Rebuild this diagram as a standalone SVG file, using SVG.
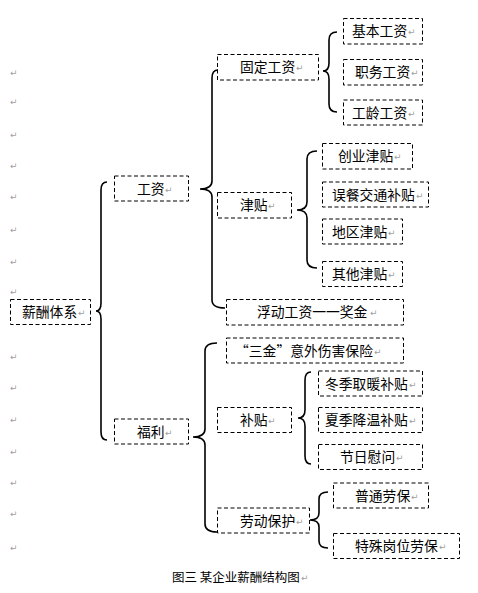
<svg xmlns="http://www.w3.org/2000/svg" width="478" height="593" viewBox="0 0 478 593">
<style>
.box rect{fill:none;stroke:#000;stroke-width:1;stroke-dasharray:4 2.5}
.t{font-family:"Noto Sans CJK SC","Liberation Sans",sans-serif;font-size:13.8px;fill:#000}
.r{font-family:"DejaVu Sans",sans-serif;font-size:9px;fill:#a0a0a0}
.br{fill:none;stroke:#000;stroke-width:1.6}
.cap{font-family:"Noto Sans CJK SC","Liberation Sans",sans-serif;font-size:12.5px;fill:#000}
</style>
<rect width="478" height="593" fill="#fff"/>
<g id="marks">
<text class="r" x="10" y="76">↵</text>
<text class="r" x="10" y="105">↵</text>
<text class="r" x="10" y="138">↵</text>
<text class="r" x="10" y="169">↵</text>
<text class="r" x="10" y="200">↵</text>
<text class="r" x="10" y="233">↵</text>
<text class="r" x="10" y="265">↵</text>
<text class="r" x="10" y="295">↵</text>
<text class="r" x="10" y="360">↵</text>
<text class="r" x="10" y="391">↵</text>
<text class="r" x="10" y="423">↵</text>
<text class="r" x="10" y="455">↵</text>
<text class="r" x="10" y="486">↵</text>
<text class="r" x="10" y="517">↵</text>
<text class="r" x="10" y="551">↵</text>
</g>
<g id="connectors">
<path class="br" d="M107 182 Q101 182 101 190 L101 303 Q101 311 96 311 Q101 311 101 319 L101 432 Q101 440 107 440"/>
<path class="br" d="M218 70 Q212 70 212 78 L212 181 Q212 189 200 189 Q212 189 212 197 L212 300 Q212 308 225 308"/>
<path class="br" d="M337 32 Q329 32 329 40 L329 63 Q329 71 323 71 Q329 71 329 79 L329 104 Q329 112 337 112"/>
<path class="br" d="M317 151 Q307 151 307 159 L307 202 Q307 210 297 210 Q307 210 307 218 L307 260 Q307 268 317 268"/>
<path class="br" d="M217 343 Q205 343 205 351 L205 429 Q205 437 193 437 Q205 437 205 445 L205 524 Q205 532 217 532"/>
<path class="br" d="M311 372 Q305 372 305 380 L305 410 Q305 418 298 418 Q305 418 305 426 L305 456 Q305 464 311 464"/>
<path class="br" d="M328 492 Q319 492 319 499 L319 513 Q319 520 310 520 Q319 520 319 527 L319 541 Q319 548 328 548"/>
</g>
<g id="n-root" class="box"><rect x="10.5" y="299.5" width="80" height="25"/><text class="t" x="22" y="317">薪酬体系</text><text class="r" x="78" y="316">↵</text></g>
<g id="n-gongzi" class="box"><rect x="114.5" y="176" width="74" height="25"/><text class="t" x="137" y="193.5">工资</text><text class="r" x="165" y="192.5">↵</text></g>
<g id="n-fuli" class="box"><rect x="114.5" y="419" width="74" height="25"/><text class="t" x="137" y="436.5">福利</text><text class="r" x="165" y="435.5">↵</text></g>
<g id="n-guding" class="box"><rect x="217.5" y="54.5" width="101" height="25.5"/><text class="t" x="240" y="72">固定工资</text><text class="r" x="296" y="71">↵</text></g>
<g id="n-jiben" class="box"><rect x="343.5" y="18.5" width="79" height="25.5"/><text class="t" x="352" y="36">基本工资</text><text class="r" x="408" y="35">↵</text></g>
<g id="n-zhiwu" class="box"><rect x="343.5" y="59.5" width="79" height="25.5"/><text class="t" x="355" y="77">职务工资</text><text class="r" x="411" y="76">↵</text></g>
<g id="n-gongling" class="box"><rect x="343.5" y="100" width="79" height="25"/><text class="t" x="352" y="117.5">工龄工资</text><text class="r" x="408" y="116.5">↵</text></g>
<g id="n-jintie" class="box"><rect x="217.5" y="192.5" width="74" height="25.5"/><text class="t" x="240" y="210">津贴</text><text class="r" x="268" y="209">↵</text></g>
<g id="n-chuangye" class="box"><rect x="322.5" y="143.5" width="90" height="25.5"/><text class="t" x="338" y="161">创业津贴</text><text class="r" x="394" y="160">↵</text></g>
<g id="n-wucan" class="box"><rect x="322.5" y="182" width="106" height="25"/><text class="t" x="332" y="199.5">误餐交通补贴</text><text class="r" x="416" y="198.5">↵</text></g>
<g id="n-diqu" class="box"><rect x="322.5" y="219" width="80" height="25"/><text class="t" x="332" y="236.5">地区津贴</text><text class="r" x="388" y="235.5">↵</text></g>
<g id="n-qita" class="box"><rect x="322.5" y="261.5" width="80" height="25"/><text class="t" x="332" y="279">其他津贴</text><text class="r" x="388" y="278">↵</text></g>
<g id="n-fudong" class="box"><rect x="226.5" y="299.5" width="177" height="25.5"/><text class="t" x="257" y="317">浮动工资一一奖金</text><text class="r" x="370" y="316">↵</text></g>
<g id="n-sanjin" class="box"><rect x="226.5" y="338" width="177" height="25"/><text class="t" x="235" y="355.5">“三金”意外伤害保险</text><text class="r" x="374" y="354.5">↵</text></g>
<g id="n-butie" class="box"><rect x="217.5" y="407.5" width="74" height="25"/><text class="t" x="240" y="425">补贴</text><text class="r" x="268" y="424">↵</text></g>
<g id="n-dongji" class="box"><rect x="318.5" y="371" width="104" height="25"/><text class="t" x="325" y="388.5">冬季取暖补贴</text><text class="r" x="409" y="387.5">↵</text></g>
<g id="n-xiaji" class="box"><rect x="318.5" y="407.5" width="104" height="25"/><text class="t" x="325" y="425">夏季降温补贴</text><text class="r" x="409" y="424">↵</text></g>
<g id="n-jieri" class="box"><rect x="318.5" y="444.5" width="104" height="25"/><text class="t" x="340" y="462">节日慰问</text><text class="r" x="396" y="461">↵</text></g>
<g id="n-laodong" class="box"><rect x="217.5" y="508" width="92" height="25"/><text class="t" x="240" y="525.5">劳动保护</text><text class="r" x="296" y="524.5">↵</text></g>
<g id="n-putong" class="box"><rect x="333.5" y="483" width="95" height="25"/><text class="t" x="355" y="500.5">普通劳保</text><text class="r" x="411" y="499.5">↵</text></g>
<g id="n-teshu" class="box"><rect x="333.5" y="533.5" width="126" height="25"/><text class="t" x="355" y="551">特殊岗位劳保</text><text class="r" x="439" y="550">↵</text></g>
<g id="caption"><text class="cap" x="172" y="582">图三 某企业薪酬结构图</text><text class="r" x="301" y="581">↵</text></g>
</svg>
